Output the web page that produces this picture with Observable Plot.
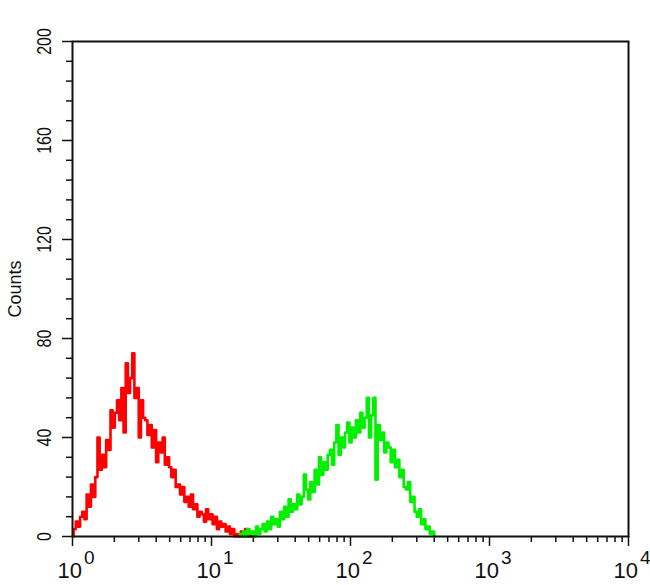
<!DOCTYPE html>
<html>
<head>
<meta charset="utf-8">
<script src="https://cdn.jsdelivr.net/npm/d3@7"></script>
<script src="https://cdn.jsdelivr.net/npm/@observablehq/plot@0.6"></script>
<style>
  body { margin: 0; background: #fff; }
  #chart svg { display: block; }
</style>
</head>
<body>
<div id="chart"></div>
<script>
// Histogram bins: 64 bins per decade on a 10^0 .. 10^4 log axis
const binsPerDecade = 64;

// Red population (isotype / negative control), counts from bin redStart
const redStart = 0;
const redCounts = [
  0, 3, 6, 4, 8, 10, 7, 17, 12, 21, 16, 24, 40, 27, 33, 28, 39, 35, 51, 44,
  50, 55, 47, 60, 42, 70, 58, 64, 74, 56, 60, 40, 55, 48, 47, 41, 45, 36, 43, 30,
  38, 34, 40, 29, 32, 28, 24, 27, 20, 21, 17, 20, 14, 16, 12, 17, 11, 13, 8, 10,
  9, 6, 11, 7, 9, 5, 8, 3, 6, 4, 5, 2, 4, 1, 3, 0, 1, 0, 2, 0,
  3, 0, 1, 0
];

// Green population (stained sample), counts from bin greenStart
const greenStart = 77;
const greenCounts = [
  1, 0, 2, 0, 3, 1, 2, 0, 4, 1, 3, 5, 2, 6, 3, 8, 5, 7, 4, 10,
  7, 12, 8, 15, 10, 13, 11, 17, 13, 16, 25, 19, 15, 22, 18, 27, 21, 32, 25, 30,
  27, 33, 35, 29, 38, 45, 33, 40, 36, 42, 46, 38, 44, 40, 47, 42, 50, 44, 48, 56,
  40, 49, 56, 23, 45, 39, 42, 34, 38, 36, 30, 35, 28, 31, 24, 27, 20, 19, 22, 14,
  16, 10, 8, 11, 5, 7, 3, 4, 1, 2, 0
];

// Axis ticks and labels
const yMajorTicks = [0, 40, 80, 120, 160, 200];
const yMinorTicks = [8, 16, 24, 32, 48, 56, 64, 72, 88, 96, 104, 112, 128, 136, 144, 152, 168, 176, 184, 192];
const yLabel = "Counts";
const xMajorTicks = [1, 10, 100, 1000, 10000];
const xTickBase = "10";
const xTickExponents = ["0", "1", "2", "3", "4"];
const xMinorTicks = [
  2, 3, 4, 5, 6, 7, 8, 9,
  20, 30, 40, 50, 60, 70, 80, 90,
  200, 300, 400, 500, 600, 700, 800, 900,
  2000, 3000, 4000, 5000, 6000, 7000, 8000, 9000
];

const toRows = (start, counts) =>
  counts.map((c, i) => ({ value: 10 ** ((start + i) / binsPerDecade), count: c }));
const redRows = toRows(redStart, redCounts);
const greenRows = toRows(greenStart, greenCounts);

const xLabelRows = xMajorTicks.map((t, i) => ({ t, label: xTickBase + "^" + xTickExponents[i] }));

const chart = Plot.plot({
  width: 650,
  height: 585,
  marginLeft: 72,
  marginRight: 22,
  marginTop: 41,
  marginBottom: 49,
  x: { type: "log", domain: [1, 10000] },
  y: { domain: [0, 200] },
  style: { fontFamily: "'Liberation Sans', Arial, sans-serif", background: "#fff", color: "#111" },
  marks: [
    Plot.axisY(yMinorTicks, { anchor: "left", tickSize: 6, tickFormat: () => "", label: null, strokeWidth: 1.5 }),
    Plot.axisY(yMajorTicks, { anchor: "left", tickSize: 10, tickFormat: () => "", label: null, strokeWidth: 1.5 }),
    Plot.axisX(xMinorTicks, { anchor: "bottom", tickSize: 6, tickFormat: () => "", label: null, strokeWidth: 1.5 }),
    Plot.axisX(xMajorTicks, { anchor: "bottom", tickSize: 10, tickFormat: () => "", label: null, strokeWidth: 1.5 }),
    Plot.line(redRows, { x: "value", y: "count", stroke: "#ff0000", strokeWidth: 2.6, curve: "step" }),
    Plot.line(greenRows, { x: "value", y: "count", stroke: "#00f000", strokeWidth: 2.6, curve: "step" }),
    Plot.frame({ stroke: "#111", strokeWidth: 2 }),
    Plot.text(yMajorTicks, {
      y: d => d, frameAnchor: "left", dx: -28, rotate: -90,
      text: d => String(d), fontSize: 20, textAnchor: "middle", lineAnchor: "middle",
      fill: "#111", className: "ylab"
    }),
    Plot.text([yLabel], {
      frameAnchor: "left", dx: -57, rotate: -90, text: d => d,
      fontSize: 18, textAnchor: "middle", lineAnchor: "middle", fill: "#111"
    }),
    Plot.text(xLabelRows, {
      x: "t", frameAnchor: "bottom", dy: 41, dx: -15, text: "label",
      fontSize: 22, textAnchor: "start", lineAnchor: "bottom", fill: "#111", className: "xlab"
    })
  ]
});

// condense the rotated y tick labels
d3.select(chart).selectAll(".ylab text").each(function () {
  const tr = this.getAttribute("transform") || "";
  this.setAttribute("transform", tr + " scale(0.8,1)");
});
// render x tick labels as 10 with a raised exponent
d3.select(chart).selectAll(".xlab text").each(function () {
  const parts = this.textContent.split("^");
  const sel = d3.select(this);
  sel.text(parts[0]);
  sel.append("tspan").attr("dx", 2).attr("dy", -14).attr("font-size", 19).text(parts[1]);
});

document.getElementById("chart").appendChild(chart);
</script>
</body>
</html>
